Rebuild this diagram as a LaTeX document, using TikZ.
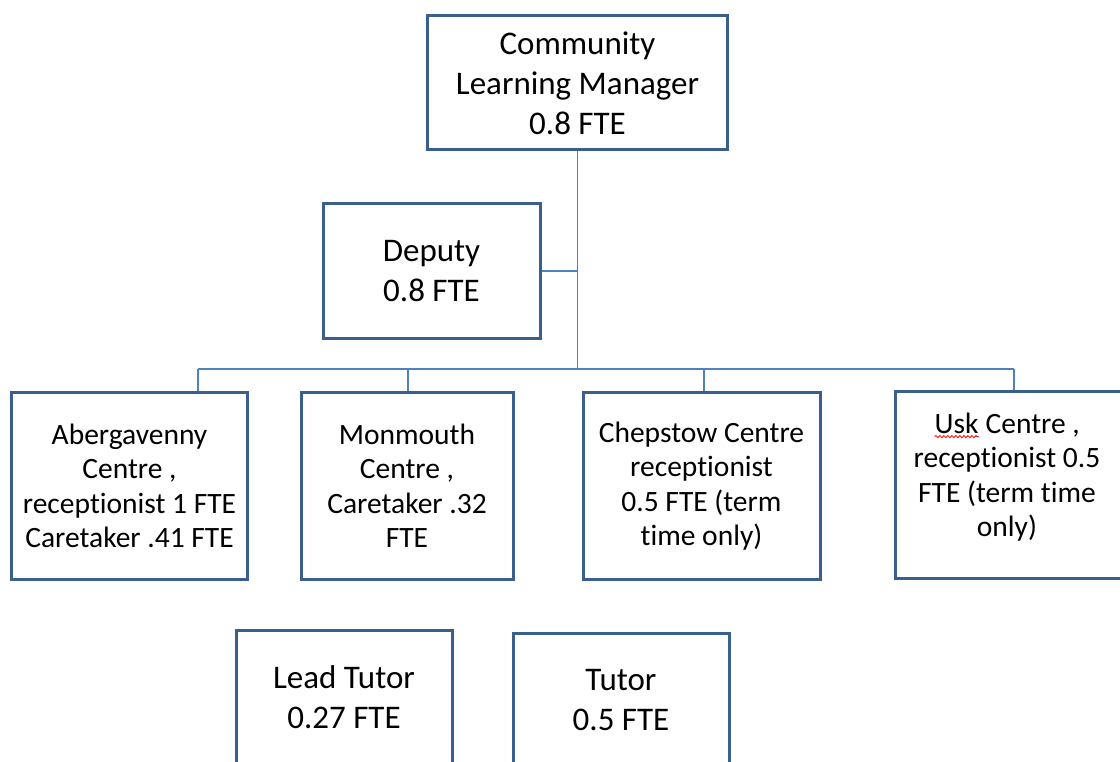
\documentclass[tikz,border=0pt]{standalone}
\usepackage{fontspec}
\setmainfont[Ligatures={NoCommon}]{Carlito}
\usetikzlibrary{decorations.pathmorphing}
\definecolor{boxline}{HTML}{3A5F8B}
\definecolor{conn}{HTML}{4F81BD}
\newcommand{\uskword}{\tikz[baseline=(uw.base)]{\node[inner sep=0pt,outer sep=0pt,draw=none](uw){Usk};\draw[red,line width=0.8pt,decorate,decoration={snake,amplitude=1.1pt,segment length=4pt}]([yshift=-3.5pt]uw.base west)--([yshift=-3.5pt]uw.base east);}}
\tikzset{
  orgbox/.style={draw=boxline, line width=3pt, fill=white, align=center, inner sep=0pt, text=black},
  bigtext/.style={font=\fontsize{33}{40}\selectfont},
  smalltext/.style={font=\fontsize{29.5}{34.5}\selectfont},
  conline/.style={draw=conn, line width=1.9pt}
}
\begin{document}
\begin{tikzpicture}[x=1pt,y=-1pt]
\useasboundingbox (0,0) rectangle (1120,762);
\clip (0,0) rectangle (1120,762);
\fill[white] (0,0) rectangle (1120,762);
% boxes
\node[orgbox, bigtext, minimum width=300pt, minimum height=134pt] (clm) at (577.5,83) {Community\\Learning Manager\\0.8 FTE};
\node[orgbox, bigtext, minimum width=217pt, minimum height=134pt] (dep) at (431.5,271) {Deputy\\0.8 FTE};
\node[orgbox, smalltext, minimum width=236pt, minimum height=187pt] (aber) at (129.5,486) {Abergavenny\\Centre ,\\receptionist 1 FTE\\Caretaker .41 FTE};
\node[orgbox, smalltext, minimum width=212pt, minimum height=187pt] (monm) at (407,486) {Monmouth\\Centre ,\\Caretaker .32\\FTE};
\node[orgbox, smalltext, minimum width=237pt, minimum height=187pt] (chep) at (701.5,486) {Chepstow Centre\\receptionist\\0.5 FTE (term\\time only)};
\node[orgbox, minimum width=228pt, minimum height=187pt] (usk) at (1009,485) {};
\node[smalltext, align=center, inner sep=0pt] (usktext) at (1007,477) {\uskword{} Centre ,\\receptionist 0.5\\FTE (term time\\only)};
\node[orgbox, bigtext, minimum width=216pt, minimum height=134pt] (lead) at (344,697) {Lead Tutor\\0.27 FTE};
\node[orgbox, bigtext, minimum width=216pt, minimum height=134pt] (tutor) at (621,700) {Tutor\\0.5 FTE};
% connector points
\coordinate (bA) at (198,369);
\coordinate (bM) at (408,369);
\coordinate (bC) at (704,369);
\coordinate (bU) at (1014,369);
% connectors
\draw[conline] (clm.south) -- (clm.south |- bA);
\draw[conline] (dep.east) -- (dep.east -| clm.south);
\draw[conline] (bA) -- (bU);
\draw[conline] (bA) -- (bA |- aber.north);
\draw[conline] (bM) -- (bM |- monm.north);
\draw[conline] (bC) -- (bC |- chep.north);
\draw[conline] (bU) -- (bU |- usk.north);
\end{tikzpicture}
\end{document}
